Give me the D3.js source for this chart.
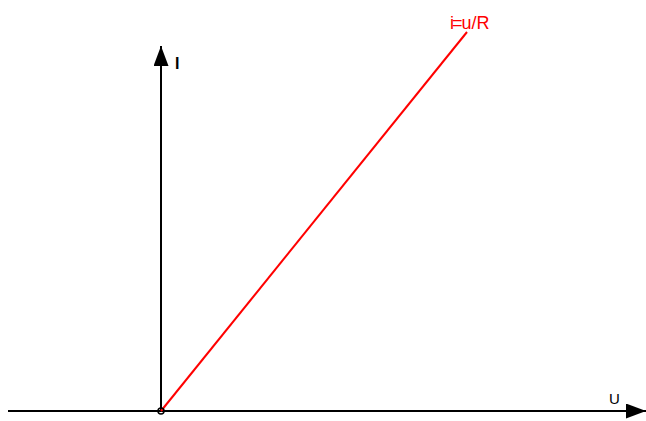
<!DOCTYPE html>
<html>
<head>
<meta charset="utf-8">
<script src="https://cdn.jsdelivr.net/npm/d3@7"></script>
<style>
  html, body { margin: 0; padding: 0; background: #fff; }
  svg { display: block; }
</style>
</head>
<body>
<svg id="chart" width="646" height="421"></svg>
<script>
// Ohm's law: current grows linearly with voltage, i = u / R
const R = 1;
const voltages = [0, 10];
const currents = voltages.map(u => u / R);

// extents of the drawn axes (in data units)
const uAxisExtent = [-5, 15.85];
const iAxisExtent = [0, 9.63];

const svg = d3.select("#chart");

const x = d3.scaleLinear().domain([0, 10]).range([161, 467]);
const y = d3.scaleLinear().domain([0, 10]).range([411, 32]);

// arrow markers
const defs = svg.append("defs");
defs.append("marker")
  .attr("id", "arrow")
  .attr("viewBox", "0 0 20 15")
  .attr("refX", 20).attr("refY", 7.5)
  .attr("markerWidth", 20).attr("markerHeight", 15)
  .attr("markerUnits", "userSpaceOnUse")
  .attr("orient", "auto")
  .append("path")
  .attr("d", "M0,0 L20,7.5 L0,15 Z")
  .attr("fill", "#000");

// U axis
svg.append("line")
  .attr("x1", x(uAxisExtent[0])).attr("y1", y(0))
  .attr("x2", x(uAxisExtent[1])).attr("y2", y(0))
  .attr("stroke", "#000").attr("stroke-width", 2)
  .attr("marker-end", "url(#arrow)");

// I axis
svg.append("line")
  .attr("x1", x(0)).attr("y1", y(iAxisExtent[0]))
  .attr("x2", x(0)).attr("y2", y(iAxisExtent[1]))
  .attr("stroke", "#000").attr("stroke-width", 2)
  .attr("marker-end", "url(#arrow)");

// characteristic line
const pts = voltages.map((u, k) => [u, currents[k]]);
svg.append("path")
  .datum(pts)
  .attr("d", d3.line().x(d => x(d[0])).y(d => y(d[1])))
  .attr("fill", "none")
  .attr("stroke", "#ff0000")
  .attr("stroke-width", 2);

// origin point
svg.append("circle")
  .attr("cx", x(0)).attr("cy", y(0)).attr("r", 3)
  .attr("fill", "none").attr("stroke", "#000").attr("stroke-width", 1.5);

// labels
svg.append("text")
  .attr("x", 175).attr("y", 69)
  .attr("font-family", "Liberation Sans, Arial, sans-serif")
  .attr("font-size", 16).attr("font-weight", "bold")
  .text("I");

svg.append("text")
  .attr("x", 609).attr("y", 404)
  .attr("font-family", "Liberation Sans, Arial, sans-serif")
  .attr("font-size", 15)
  .text("U");

const formula = svg.append("text")
  .attr("x", 450).attr("y", 29)
  .attr("font-family", "Liberation Sans, Arial, sans-serif")
  .attr("font-size", 18)
  .attr("fill", "#ff0000");
formula.append("tspan").text("i");
formula.append("tspan").attr("dx", -2).text("=");
formula.append("tspan").attr("dx", -1).text("u/R");
</script>
</body>
</html>
